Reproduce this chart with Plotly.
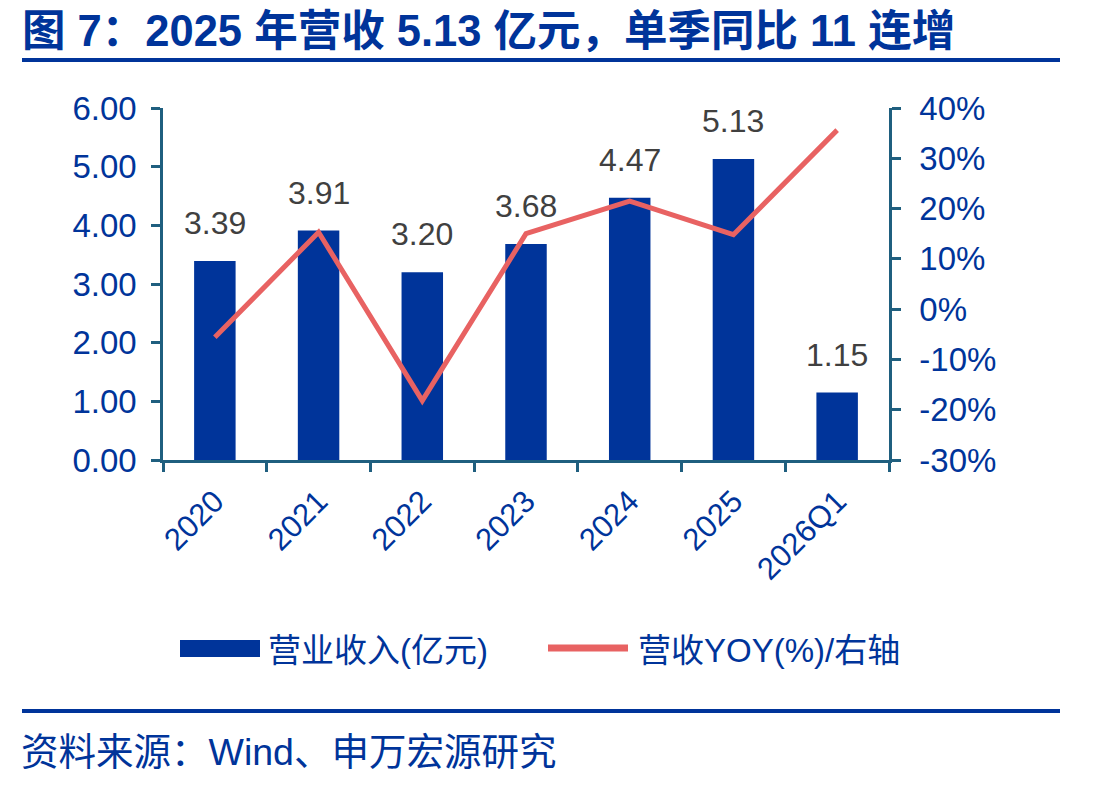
import plotly.graph_objects as go

categories = ["2020", "2021", "2022", "2023", "2024", "2025", "2026Q1"]
revenue = [3.39, 3.91, 3.20, 3.68, 4.47, 5.13, 1.15]
yoy = [-5.6, 15.3, -18.2, 15.0, 21.5, 14.8, 35.6]
left_ticks = [0, 1, 2, 3, 4, 5, 6]
right_ticks = [-30, -20, -10, 0, 10, 20, 30, 40]

title_text = "图 7：2025 年营收 5.13 亿元，单季同比 11 连增"
source_text = "资料来源：Wind、申万宏源研究"
bar_name = "营业收入(亿元)"
line_name = "营收YOY(%)/右轴"

BLUE = "#00349A"
RED = "#E86262"
AXIS = "#1F5F7F"
FONT = "Liberation Sans, Arial, Noto Sans CJK SC"

W, H = 1107, 787
L, R, T, B = 163, 889, 108, 460
pw, ph = R - L, B - T


def px(x):
    return (x - L) / pw


def py(y):
    return (B - y) / ph


fig = go.Figure()
fig.add_trace(go.Bar(x=categories, y=revenue, marker=dict(color=BLUE, line=dict(width=0)),
                     width=0.4, showlegend=False))
fig.add_trace(go.Scatter(x=categories, y=yoy, yaxis="y2", mode="lines",
                         line=dict(color=RED, width=5), showlegend=False))

annotations = []
for i, v in enumerate(revenue):
    annotations.append(dict(x=i, y=v, xref="x", yref="y", text=f"{v:.2f}", showarrow=False,
                            yshift=38, font=dict(family=FONT, size=32, color="#404040")))

# title
annotations.append(dict(x=px(20), y=py(31), xref="paper", yref="paper", xanchor="left", yanchor="middle",
                        text=f"<b>{title_text}</b>", showarrow=False,
                        font=dict(family="Liberation Sans, Noto Sans CJK SC", size=43.5, color=BLUE)))
# source
annotations.append(dict(x=px(19), y=py(752), xref="paper", yref="paper", xanchor="left", yanchor="middle",
                        text=source_text, showarrow=False,
                        font=dict(family=FONT, size=37.5, color=BLUE)))
# legend texts
annotations.append(dict(x=px(266), y=py(650), xref="paper", yref="paper", xanchor="left", yanchor="middle",
                        text=bar_name, showarrow=False, font=dict(family=FONT, size=33, color=BLUE)))
annotations.append(dict(x=px(636), y=py(650), xref="paper", yref="paper", xanchor="left", yanchor="middle",
                        text=line_name, showarrow=False, font=dict(family=FONT, size=33, color=BLUE)))

shapes = [
    dict(type="line", xref="paper", yref="paper", x0=px(22), x1=px(1060), y0=py(60), y1=py(60),
         line=dict(color=BLUE, width=4)),
    dict(type="line", xref="paper", yref="paper", x0=px(22), x1=px(1060), y0=py(711), y1=py(711),
         line=dict(color=BLUE, width=4)),
    dict(type="rect", xref="paper", yref="paper", x0=px(180), x1=px(260), y0=py(657), y1=py(640),
         fillcolor=BLUE, line=dict(width=0)),
    dict(type="line", xref="paper", yref="paper", x0=px(548), x1=px(628), y0=py(648), y1=py(648),
         line=dict(color=RED, width=7)),
]

fig.update_layout(
    width=W, height=H,
    margin=dict(l=L, r=W - R, t=T, b=H - B),
    plot_bgcolor="white", paper_bgcolor="white",
    font=dict(family=FONT),
    bargap=0.6,
    xaxis=dict(type="category", range=[-0.5, 6.5], tickangle=-45, ticks="outside", tickson="boundaries",
               ticklen=9, tickwidth=2.5, tickcolor=AXIS, showline=True, linecolor=AXIS, linewidth=2.5,
               showgrid=False, ticklabelstandoff=8, tickfont=dict(family=FONT, size=31, color=BLUE)),
    yaxis=dict(range=[0, 6], tickvals=left_ticks, ticktext=[f"{v:.2f}" for v in left_ticks],
               ticks="outside", ticklen=9, ticklabelstandoff=8,
               tickwidth=2.5, tickcolor=AXIS, showline=True, linecolor=AXIS, linewidth=2.5,
               showgrid=False, zeroline=False, tickfont=dict(family=FONT, size=33, color=BLUE)),
    yaxis2=dict(range=[-30, 40], tickvals=right_ticks, ticktext=[f"{v}%" for v in right_ticks],
                overlaying="y", side="right", ticklabelstandoff=12,
                ticks="outside", ticklen=9, tickwidth=2.5, tickcolor=AXIS, showline=True, linecolor=AXIS,
                linewidth=2.5, showgrid=False, zeroline=False,
                tickfont=dict(family=FONT, size=33, color=BLUE)),
    annotations=annotations,
    shapes=shapes,
)

fig.write_html("out.html")
